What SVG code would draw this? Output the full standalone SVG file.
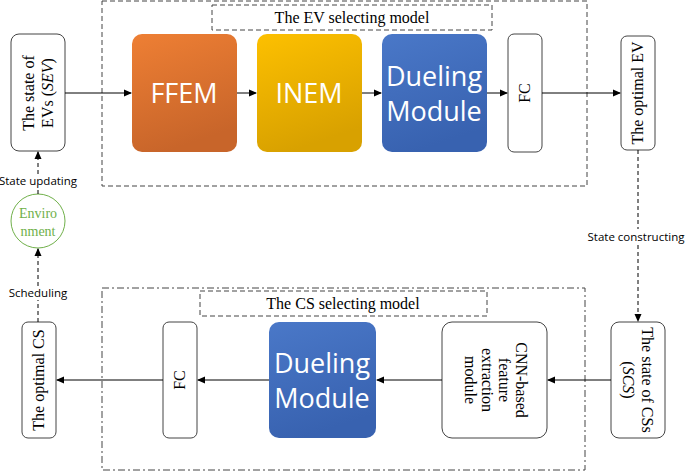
<svg xmlns="http://www.w3.org/2000/svg" width="685" height="474" viewBox="0 0 685 474">
<defs>
<linearGradient id="gO" x1="0" y1="0" x2="0.3" y2="1"><stop offset="0" stop-color="#ee7f34"/><stop offset="1" stop-color="#c8652a"/></linearGradient>
<linearGradient id="gY" x1="0" y1="0" x2="0.3" y2="1"><stop offset="0" stop-color="#fdc000"/><stop offset="1" stop-color="#d8a100"/></linearGradient>
<linearGradient id="gB" x1="0" y1="0" x2="0.3" y2="1"><stop offset="0" stop-color="#4a78c8"/><stop offset="1" stop-color="#3862b0"/></linearGradient>
<marker id="ah" markerWidth="8" markerHeight="8" refX="7" refY="4" orient="auto" markerUnits="userSpaceOnUse"><path d="M0,0.5 L8,4 L0,7.5 Z" fill="#000"/></marker>
<style>
.w{fill:#fff;stroke:#444;stroke-width:1}
.t{font-family:"Liberation Serif",serif;font-size:16px;fill:#000}
.s{font-family:"Open Sans","Liberation Sans",sans-serif;font-size:11.5px;fill:#000}
.big{font-family:"Open Sans","Liberation Sans",sans-serif;font-size:27px;fill:#fff}
.c{fill:none;stroke:#000;stroke-width:1}
</style>
</defs>
<rect x="102" y="1" width="485" height="185" fill="none" stroke="#444" stroke-dasharray="5,3"/>
<rect x="212" y="5" width="280" height="25" fill="none" stroke="#444" stroke-dasharray="5,3"/>
<text class="t" x="352" y="23" text-anchor="middle">The EV selecting model</text>
<rect x="102" y="288" width="483" height="182" fill="none" stroke="#444" stroke-dasharray="7,3,2,3"/>
<rect x="200" y="291" width="287" height="25" fill="none" stroke="#444" stroke-dasharray="5,3"/>
<text class="t" x="343" y="309" text-anchor="middle">The CS selecting model</text>
<g id="sev"><rect class="w" x="11" y="34" width="54" height="117" rx="8"/><text class="t" transform="translate(38,93) rotate(-90)" text-anchor="middle"><tspan x="0" y="-4">The state of</tspan><tspan x="0" y="15">EVs (<tspan font-style="italic">SEV</tspan>)</tspan></text></g>
<g id="ffem"><rect x="132" y="34" width="105" height="118" rx="10" fill="url(#gO)"/><text class="big" x="184" y="103" text-anchor="middle">FFEM</text></g>
<g id="inem"><rect x="257" y="34" width="105" height="118" rx="10" fill="url(#gY)"/><text class="big" x="309" y="103" text-anchor="middle">INEM</text></g>
<g id="duel1"><rect x="382" y="34" width="105" height="118" rx="10" fill="url(#gB)"/><text class="big" x="434" y="86" text-anchor="middle">Dueling</text><text class="big" x="434" y="121" text-anchor="middle">Module</text></g>
<g id="fc1"><rect class="w" x="508" y="34" width="34" height="118" rx="6"/><text class="t" transform="translate(530,93) rotate(-90)" text-anchor="middle">FC</text></g>
<g id="optev"><rect class="w" x="621" y="36" width="34" height="114" rx="6"/><text class="t" transform="translate(643,93) rotate(-90)" text-anchor="middle">The optimal EV</text></g>
<g id="env"><circle cx="38" cy="221" r="27" fill="#fff" stroke="#70b04a"/><text class="t" x="38" y="218" text-anchor="middle" style="fill:#70b04a;font-size:14px">Enviro</text><text class="t" x="38" y="236" text-anchor="middle" style="fill:#70b04a;font-size:14px">nment</text></g>
<g id="scs"><rect class="w" x="611" y="322" width="54" height="116" rx="8"/><text class="t" transform="translate(638,380) rotate(90)" text-anchor="middle"><tspan x="0" y="-4">The state of CSs</tspan><tspan x="0" y="15">(<tspan font-style="italic">SCS</tspan>)</tspan></text></g>
<g id="cnn"><rect class="w" x="442" y="322" width="105" height="116" rx="10"/><text class="t" transform="translate(494,380) rotate(90)" text-anchor="middle"><tspan x="0" y="-22">CNN-based</tspan><tspan x="0" y="-5">feature</tspan><tspan x="0" y="12">extraction</tspan><tspan x="0" y="29">module</tspan></text></g>
<g id="duel2"><rect x="269" y="322" width="107" height="116" rx="10" fill="url(#gB)"/><text class="big" x="322" y="373" text-anchor="middle">Dueling</text><text class="big" x="322" y="408" text-anchor="middle">Module</text></g>
<g id="fc2"><rect class="w" x="163" y="322" width="34" height="116" rx="6"/><text class="t" transform="translate(185,380) rotate(-90)" text-anchor="middle">FC</text></g>
<g id="optcs"><rect class="w" x="22" y="322" width="34" height="116" rx="6"/><text class="t" transform="translate(44,380) rotate(-90)" text-anchor="middle">The optimal CS</text></g>
<g id="connectors">
<line class="c" x1="65" y1="93" x2="131" y2="93" marker-end="url(#ah)"/>
<line class="c" x1="237" y1="93" x2="256" y2="93" marker-end="url(#ah)"/>
<line class="c" x1="362" y1="93" x2="381" y2="93" marker-end="url(#ah)"/>
<line class="c" x1="487" y1="93" x2="507" y2="93" marker-end="url(#ah)"/>
<line class="c" x1="542" y1="93" x2="620" y2="93" marker-end="url(#ah)"/>
<line class="c" x1="638" y1="150" x2="638" y2="229" stroke-dasharray="4,3"/>
<line class="c" x1="638" y1="245" x2="638" y2="321" stroke-dasharray="4,3" marker-end="url(#ah)"/>
<text class="s" x="636" y="241" text-anchor="middle">State constructing</text>
<line class="c" x1="611" y1="380" x2="548" y2="380" marker-end="url(#ah)"/>
<line class="c" x1="442" y1="380" x2="377" y2="380" marker-end="url(#ah)"/>
<line class="c" x1="269" y1="380" x2="198" y2="380" marker-end="url(#ah)"/>
<line class="c" x1="163" y1="380" x2="57" y2="380" marker-end="url(#ah)"/>
<line class="c" x1="38" y1="194" x2="38" y2="188" stroke-dasharray="4,3"/>
<line class="c" x1="38" y1="174" x2="38" y2="152" stroke-dasharray="4,3" marker-end="url(#ah)"/>
<text class="s" x="38" y="185" text-anchor="middle">State updating</text>
<line class="c" x1="38" y1="322" x2="38" y2="300" stroke-dasharray="4,3"/>
<line class="c" x1="38" y1="286" x2="38" y2="249" stroke-dasharray="4,3" marker-end="url(#ah)"/>
<text class="s" x="38" y="297" text-anchor="middle">Scheduling</text>
</g>
</svg>
